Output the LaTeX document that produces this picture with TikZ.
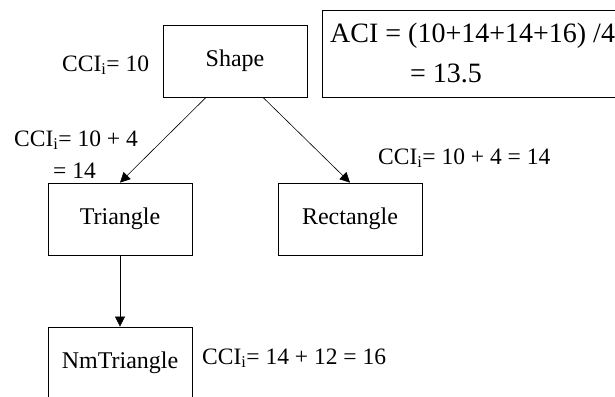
\documentclass[tikz,border=0pt]{standalone}
\usepackage{fontspec}
\setmainfont{Liberation Serif}
\usepackage{tikz}
\usetikzlibrary{arrows.meta}

\begin{document}
\begin{tikzpicture}[x=1pt, y=-1pt,
  box/.style={draw, line width=0.8pt, minimum width=144pt, minimum height=72pt, inner sep=0pt, font=\fontsize{24}{28}\selectfont},
  lbl/.style={anchor=base west, inner sep=0pt, font=\fontsize{23.5}{28}\selectfont},
  big/.style={anchor=base west, inner sep=0pt, font=\fontsize{28}{34}\selectfont},
  arr/.style={-{Triangle[length=10pt,width=10pt]}, line width=0.6pt}]
\useasboundingbox (0,0) rectangle (615,396);
\clip (0,0) rectangle (615,396);
\node[box] (shape) at (235,61) {Shape};
\node[box] (tri) at (120,219) {Triangle};
\node[box] (rect) at (350,219) {Rectangle};
\node[box] (nmtri) at (120,363) {NmTriangle};
\node[draw, line width=1.2pt, anchor=north west, minimum width=310pt, minimum height=87pt, inner sep=0pt] (acibox) at (322,10) {};
\node[big] (aci) at (330,42) {ACI = (10+14+14+16) /4};
\node[big] (acival) at (410,82) {= 13.5};
\node[lbl] (cci1) at (62,71) {CCI\textsubscript{i}= 10};
\node[lbl] (cci2) at (14,146) {CCI\textsubscript{i}= 10 + 4};
\node[lbl] (cci2b) at (53,178) {= 14};
\node[lbl] (cci3) at (378,164) {CCI\textsubscript{i}= 10 + 4 = 14};
\node[lbl] (cci4) at (202,364) {CCI\textsubscript{i}= 14 + 12 = 16};
\draw[arr] ([xshift=-29pt]shape.south) -- (tri.north);
\draw[arr] ([xshift=28pt]shape.south) -- (rect.north);
\draw[arr] (tri.south) -- (nmtri.north);
\end{tikzpicture}
\end{document}
